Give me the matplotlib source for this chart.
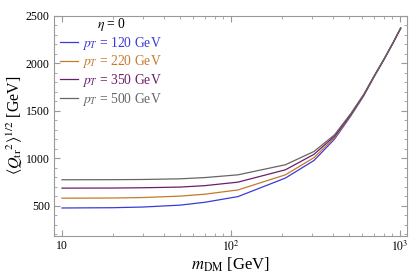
import numpy as np
import matplotlib.pyplot as plt
from matplotlib.ticker import MultipleLocator, LogLocator, NullFormatter

plt.rcParams['font.family'] = ['Liberation Serif', 'DejaVu Serif']
plt.rcParams['mathtext.fontset'] = 'stix'

m_dm = [10, 20, 30, 50, 70, 110, 210, 310, 410, 510, 610, 710, 810, 910, 1010]
q_120 = [475, 478, 485, 505, 535, 595, 790, 975, 1200, 1440, 1655, 1870, 2045, 2210, 2365]
q_220 = [578, 580, 585, 600, 620, 665, 824, 1005, 1215, 1448, 1660, 1872, 2047, 2212, 2367]
q_350 = [684, 685, 688, 695, 710, 747, 877, 1040, 1230, 1455, 1665, 1875, 2050, 2214, 2368]
q_500 = [772, 773, 775, 782, 795, 824, 930, 1070, 1245, 1465, 1670, 1878, 2052, 2215, 2370]
pt_labels = ['120', '220', '350', '500']
colors = ['#3a3ad8', '#c47a2c', '#6c1d6c', '#666666']

fig = plt.figure(figsize=(4.09, 2.78), dpi=100)
ax = fig.add_axes([0.132, 0.151, 0.863, 0.793])

for q, pt, c in zip([q_120, q_220, q_350, q_500], pt_labels, colors):
    ax.plot(m_dm, q, color=c, lw=0.9, label=r'$p_T$ = %s GeV' % pt)

ax.set_xscale('log')
ax.set_xlim(8.97, 1100)
ax.set_ylim(180, 2500)
ax.yaxis.set_major_locator(MultipleLocator(500))
ax.yaxis.set_minor_locator(MultipleLocator(100))
ax.xaxis.set_minor_locator(LogLocator(subs=np.arange(2, 10)))
ax.xaxis.set_minor_formatter(NullFormatter())
ax.set_xticks([10, 100, 1000])
ax.set_xticklabels(['10', r'$10^2$', r'$10^3$'])

ax.tick_params(which='both', direction='in', top=True, right=True,
               labelsize=8.5, color='#999999', pad=3)
ax.tick_params(which='major', length=4)
ax.tick_params(which='minor', length=2)
for s in ax.spines.values():
    s.set_color('#999999')
    s.set_linewidth(0.8)

ax.set_xlabel(r'$m_{\rm DM}$ [GeV]', fontsize=12, labelpad=1)
ax.set_ylabel(r'$\langle {Q_{\rm tr}}^2\rangle^{1/2}$ [GeV]', fontsize=11.5, labelpad=1)

leg = ax.legend(loc='upper left', bbox_to_anchor=(-0.005, 1.035), frameon=False,
                fontsize=9.8, title=r'$\eta$ = 0', title_fontsize=9.8,
                handlelength=1.3, handletextpad=0.3, labelspacing=0.12,
                borderaxespad=0.2, labelcolor='linecolor')

plt.savefig('out.png', dpi=100)
